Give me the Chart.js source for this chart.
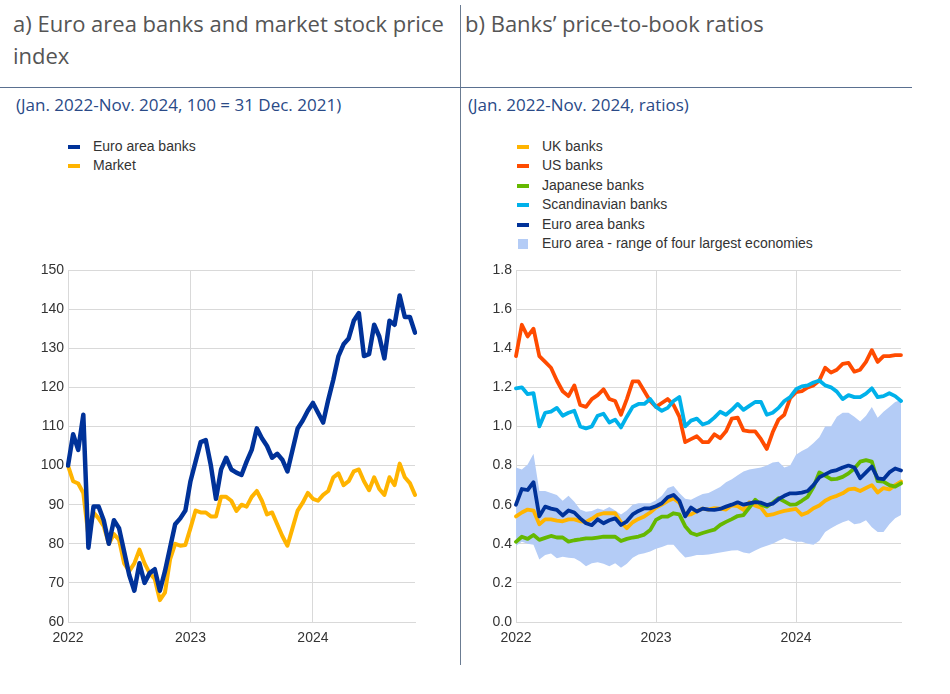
<!DOCTYPE html>
<html>
<head>
<meta charset="utf-8">
<script src="https://cdn.jsdelivr.net/npm/chart.js@4/dist/chart.umd.min.js"></script>
<style>
  html, body { margin:0; padding:0; background:#fff; }
  body { width:950px; height:694px; position:relative; overflow:hidden; font-family:"Open Sans", sans-serif; }
  .title { position:absolute; font-size:22px; color:#555; line-height:32px; }
  .sub { position:absolute; font-size:17px; line-height:24px; color:#2a4a87; }
  .vline { position:absolute; left:460px; top:5px; width:1px; height:660px; background:#6b7c92; }
  .hline { position:absolute; left:0; top:87px; width:912px; height:1px; background:#5a7090; }
  .legend { position:absolute; font-family:"Liberation Sans", Arial, sans-serif; font-size:14px; color:#333; }
  .legend div { position:relative; height:19.4px; line-height:19.4px; padding-left:25px; white-space:nowrap; }
  .legend span.sw { position:absolute; left:0; top:8px; width:12px; height:4px; }
  .legend span.sq { position:absolute; left:1px; top:5px; width:10px; height:10px; }
  .box { position:absolute; }
</style>
</head>
<body>
<div class="title" style="left:13px;top:7px;width:446px;">a) Euro area banks and market stock price index</div>
<div class="title" style="left:465px;top:7px;">b) Banks’ price-to-book ratios</div>
<div class="vline"></div>
<div class="hline"></div>
<div class="sub" style="left:16px;top:93px;">(Jan. 2022-Nov. 2024, 100 = 31 Dec. 2021)</div>
<div class="sub" style="left:468px;top:93px;">(Jan. 2022-Nov. 2024, ratios)</div>

<div class="legend" style="left:68px;top:137px;">
  <div><span class="sw" style="background:#003299"></span>Euro area banks</div>
  <div><span class="sw" style="background:#ffb400"></span>Market</div>
</div>
<div class="legend" style="left:517px;top:137px;">
  <div><span class="sw" style="background:#ffb400"></span>UK banks</div>
  <div><span class="sw" style="background:#ff4b00"></span>US banks</div>
  <div><span class="sw" style="background:#65b800"></span>Japanese banks</div>
  <div><span class="sw" style="background:#00b1ea"></span>Scandinavian banks</div>
  <div><span class="sw" style="background:#003299"></span>Euro area banks</div>
  <div><span class="sq" style="background:#b4ccf6"></span>Euro area - range of four largest economies</div>
</div>

<div class="box" style="left:0px;top:250px;width:440px;height:410px;"><canvas id="c1"></canvas></div>
<div class="box" style="left:460px;top:250px;width:470px;height:410px;"><canvas id="c2"></canvas></div>

<script>
// ---- categories (half-monthly observation dates) ----
const datesA = [
 "2022-01-01","2022-01-16","2022-02-01","2022-02-16","2022-03-01","2022-03-16","2022-04-01","2022-04-16",
 "2022-05-01","2022-05-16","2022-06-01","2022-06-16","2022-07-01","2022-07-16","2022-08-01","2022-08-16",
 "2022-09-01","2022-09-16","2022-10-01","2022-10-16","2022-11-01","2022-11-16","2022-12-01","2022-12-16",
 "2023-01-01","2023-01-16","2023-02-01","2023-02-16","2023-03-01","2023-03-16","2023-04-01","2023-04-16",
 "2023-05-01","2023-05-16","2023-06-01","2023-06-16","2023-07-01","2023-07-16","2023-08-01","2023-08-16",
 "2023-09-01","2023-09-16","2023-10-01","2023-10-16","2023-11-01","2023-11-16","2023-12-01","2023-12-16",
 "2024-01-01","2024-01-16","2024-02-01","2024-02-16","2024-03-01","2024-03-16","2024-04-01","2024-04-16",
 "2024-05-01","2024-05-16","2024-06-01","2024-06-16","2024-07-01","2024-07-16","2024-08-01","2024-08-16",
 "2024-09-01","2024-09-16","2024-10-01","2024-10-16","2024-11-01"
];
const datesB = datesA.slice(0, 67);

// ---- panel a: stock price indices (100 = 31 Dec. 2021) ----
const euroBanksIndex = [
 100,108,104,113,79,89.5,89.5,86,80,86,84,78,72,68,75,70,72.5,73.5,68,73,79,85,86.5,88.5,
 96,101,106,106.5,100,91.5,99,102,99,98.2,97.6,101,104,109.5,107,105,102,103,101.5,98.5,104,109.5,111.5,114,
 116,113.5,111,116.8,122,128,131,132.5,137,139,128,128.5,136,133,127.4,137,136,143.5,138,138,134
];
const marketIndex = [
 100,96,95.4,93,82,88,86.5,84.5,80,82.5,81,75,73,75,78.5,75,72.5,71,65.6,67.5,76,80,79.5,79.7,
 84,88.5,88,88,87,87,92,92,91,88.4,90,89.5,92,93.5,91,87.5,88,85,82,79.5,84,88.5,90.5,93,
 91.5,91,92.5,93.5,97,98,95,96,98.5,99,96,93.7,97,94,92.5,97,95,100.5,97,95.5,92.5
];

// ---- panel b: price-to-book ratios ----
const ukBanks = [
 0.54,0.56,0.575,0.57,0.50,0.525,0.525,0.518,0.515,0.525,0.525,0.515,0.512,0.528,0.548,0.556,0.556,0.556,0.51,0.48,0.51,0.527,0.54,0.56,
 0.585,0.60,0.618,0.632,0.61,0.547,0.55,0.567,0.58,0.575,0.582,0.58,0.575,0.597,0.592,0.573,0.612,0.595,0.585,0.545,0.55,0.56,0.568,0.573,
 0.578,0.548,0.56,0.582,0.596,0.62,0.635,0.645,0.658,0.678,0.682,0.67,0.685,0.70,0.662,0.685,0.678,0.70,0.718
];
const usBanks = [
 1.36,1.52,1.46,1.50,1.36,1.33,1.30,1.235,1.18,1.155,1.21,1.11,1.10,1.14,1.16,1.19,1.14,1.13,1.06,1.14,1.23,1.23,1.18,1.13,
 1.10,1.12,1.14,1.11,1.05,0.92,0.935,0.95,0.92,0.92,0.96,0.94,0.975,1.04,1.045,0.98,0.975,0.975,0.935,0.885,0.97,1.035,1.06,1.145,
 1.175,1.18,1.20,1.21,1.235,1.30,1.275,1.29,1.32,1.325,1.28,1.29,1.33,1.39,1.33,1.36,1.36,1.365,1.365
];
const japaneseBanks = [
 0.41,0.436,0.425,0.445,0.42,0.43,0.44,0.432,0.432,0.411,0.418,0.422,0.428,0.428,0.432,0.436,0.436,0.436,0.414,0.425,0.432,0.437,0.447,0.47,
 0.522,0.539,0.539,0.556,0.55,0.49,0.455,0.445,0.455,0.464,0.472,0.496,0.512,0.526,0.542,0.547,0.585,0.625,0.60,0.59,0.61,0.633,0.617,0.60,
 0.602,0.62,0.64,0.69,0.765,0.748,0.73,0.732,0.742,0.76,0.785,0.82,0.828,0.82,0.72,0.718,0.70,0.692,0.709
];
const scandinavianBanks = [
 1.195,1.20,1.165,1.17,1.00,1.07,1.076,1.095,1.055,1.07,1.08,1.00,0.99,1.00,1.055,1.065,1.02,1.035,0.995,1.05,1.10,1.115,1.115,1.14,
 1.10,1.08,1.095,1.13,1.15,1.00,1.03,1.04,1.01,1.02,1.045,1.075,1.06,1.085,1.115,1.085,1.105,1.125,1.125,1.06,1.07,1.095,1.13,1.15,
 1.19,1.205,1.21,1.225,1.235,1.21,1.20,1.178,1.14,1.16,1.15,1.15,1.168,1.195,1.15,1.155,1.17,1.155,1.13
];
const euroAreaBanksPB = [
 0.60,0.68,0.675,0.715,0.54,0.59,0.58,0.573,0.545,0.57,0.56,0.53,0.505,0.495,0.525,0.505,0.52,0.53,0.496,0.515,0.55,0.568,0.581,0.581,
 0.592,0.607,0.638,0.65,0.62,0.54,0.585,0.565,0.58,0.575,0.573,0.578,0.59,0.60,0.612,0.60,0.607,0.613,0.61,0.598,0.605,0.628,0.645,0.658,
 0.658,0.662,0.67,0.70,0.74,0.755,0.77,0.777,0.79,0.80,0.79,0.735,0.765,0.795,0.735,0.73,0.765,0.785,0.775
];
const rangeHigh = [
 0.79,0.78,0.805,0.86,0.67,0.67,0.66,0.65,0.62,0.645,0.615,0.575,0.564,0.568,0.58,0.573,0.588,0.57,0.55,0.57,0.60,0.607,0.607,0.607,
 0.622,0.645,0.685,0.695,0.66,0.63,0.625,0.64,0.655,0.66,0.675,0.69,0.715,0.73,0.75,0.77,0.78,0.785,0.79,0.80,0.815,0.82,0.79,0.80,
 0.855,0.875,0.89,0.915,0.945,1.00,1.00,1.05,1.07,1.07,1.05,1.025,1.055,1.10,1.045,1.075,1.10,1.125,1.135
];
const rangeLow = [
 0.39,0.41,0.40,0.395,0.32,0.343,0.35,0.326,0.334,0.328,0.326,0.31,0.285,0.30,0.305,0.298,0.285,0.30,0.278,0.298,0.328,0.345,0.352,0.36,
 0.375,0.383,0.395,0.395,0.36,0.33,0.335,0.343,0.343,0.345,0.35,0.355,0.36,0.365,0.367,0.355,0.35,0.365,0.38,0.39,0.40,0.415,0.428,0.418,
 0.411,0.411,0.40,0.395,0.415,0.46,0.48,0.496,0.51,0.52,0.50,0.505,0.52,0.485,0.46,0.46,0.50,0.53,0.547
];

const yTicksA = { min: 60, max: 150, step: 10 };
const yTicksB = { min: 0, max: 1.8, step: 0.2 };

const GRID = '#d9d9d9';
const tickFont = { family: '"Liberation Sans", Arial, sans-serif', size: 14 };

function xScale() {
  return {
    type: 'category',
    offset: false,
    border: { color: GRID },
    grid: {
      drawTicks: false,
      color: ctx => (ctx.tick && ctx.tick.label) ? GRID : 'rgba(0,0,0,0)'
    },
    ticks: {
      autoSkip: false, maxRotation: 0, minRotation: 0, padding: 8,
      color: '#333', font: tickFont,
      callback: function (v) {
        const l = this.getLabelForValue(v);
        return l.endsWith('-01-01') ? l.slice(0, 4) : '';
      }
    },
    afterFit: s => { s.height = 38; }
  };
}
function yScale(t, w, dec) {
  return {
    min: t.min, max: t.max,
    border: { color: GRID },
    grid: { drawTicks: false, color: GRID },
    ticks: {
      stepSize: t.step, padding: 4, color: '#333', font: tickFont,
      callback: v => dec ? Number(v).toFixed(1) : v
    },
    afterFit: s => { s.width = w; }
  };
}
function line(label, data, color, w) {
  return { label, data, borderColor: color, backgroundColor: color, borderWidth: w,
           pointRadius: 0, tension: 0, fill: false, borderJoinStyle: 'round', borderCapStyle: 'round' };
}
const common = {
  responsive: true, maintainAspectRatio: false, animation: false,
  plugins: { legend: { display: false }, tooltip: { enabled: false } },
  events: []
};

new Chart(document.getElementById('c1'), {
  type: 'line',
  data: {
    labels: datesA,
    datasets: [
      line('Euro area banks', euroBanksIndex, '#003299', 4.5),
      line('Market', marketIndex, '#ffb400', 4)
    ]
  },
  options: Object.assign({}, common, {
    layout: { padding: { top: 20, right: 25, left: 0, bottom: 0 } },
    scales: { x: xScale(), y: yScale(yTicksA, 68, false) }
  })
});

new Chart(document.getElementById('c2'), {
  type: 'line',
  data: {
    labels: datesB,
    datasets: [
      line('Euro area banks', euroAreaBanksPB, '#003299', 3.8),
      line('Japanese banks', japaneseBanks, '#65b800', 3.8),
      line('UK banks', ukBanks, '#ffb400', 3.8),
      line('Scandinavian banks', scandinavianBanks, '#00b1ea', 3.8),
      line('US banks', usBanks, '#ff4b00', 3.8),
      { label: 'Euro area - range of four largest economies', data: rangeHigh, borderWidth: 0,
        borderColor: 'rgba(0,0,0,0)', backgroundColor: '#b4ccf6', pointRadius: 0, tension: 0, fill: '+1' },
      { label: 'range low', data: rangeLow, borderWidth: 0, borderColor: 'rgba(0,0,0,0)',
        backgroundColor: '#b4ccf6', pointRadius: 0, tension: 0, fill: false }
    ]
  },
  options: Object.assign({}, common, {
    layout: { padding: { top: 20, right: 29, left: 0, bottom: 0 } },
    scales: { x: xScale(), y: yScale(yTicksB, 56, true) }
  })
});
</script>
</body>
</html>
